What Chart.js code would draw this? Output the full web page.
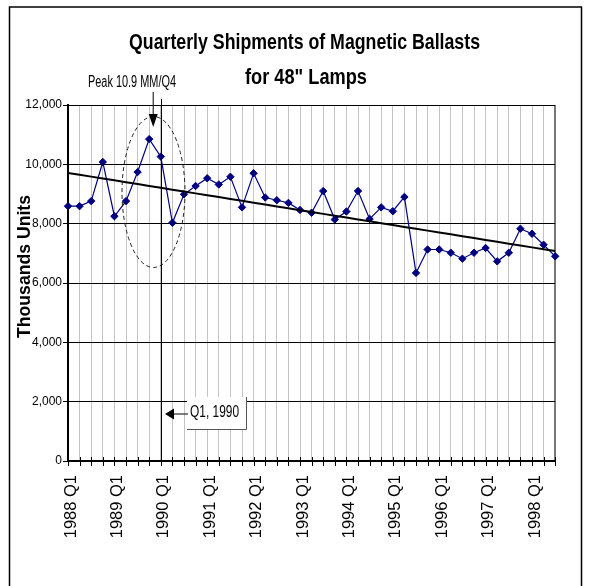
<!DOCTYPE html>
<html lang="en">
<head>
<meta charset="UTF-8">
<title>Quarterly Shipments of Magnetic Ballasts</title>
<script src="https://cdn.jsdelivr.net/npm/chart.js"></script>
<style>
  body { margin: 0; background: #fff; }
  canvas { display: block; }
</style>
</head>
<body>
<canvas id="myChart" width="589" height="586"></canvas>
<script>
// data (thousands of units, 1988 Q1 .. 1998 Q3)
const years = [1988, 1989, 1990, 1991, 1992, 1993, 1994, 1995, 1996, 1997, 1998];
const quarterNames = ['Q1', 'Q2', 'Q3', 'Q4'];
const shipments = [
  8590, 8590, 8760, 10080, 8250, 8760, 9740, 10850, 10260, 8030,
  8990, 9270, 9530, 9320, 9580, 8550, 9700, 8880, 8790, 8700,
  8460, 8370, 9100, 8140, 8410, 9100, 8160, 8550, 8420, 8900,
  6340, 7130, 7130, 7020, 6820, 7020, 7180, 6730, 7020, 7830,
  7660, 7290, 6900
];
const yTicks = [0, 2000, 4000, 6000, 8000, 10000, 12000];
const titleLines = ['Quarterly Shipments of Magnetic Ballasts', 'for 48" Lamps'];
const yTitle = 'Thousands Units';
const peakNote = 'Peak 10.9 MM/Q4';
const calloutNote = 'Q1, 1990';
const peakIndex = 7;
const markIndex = 8;

const labels = [];
years.forEach(y => quarterNames.forEach(q => labels.push(y + ' ' + q)));
labels.length = shipments.length;

// least squares trend
const n = shipments.length;
const mx = (n - 1) / 2;
const my = shipments.reduce((a, b) => a + b, 0) / n;
let sxy = 0, sxx = 0;
shipments.forEach((v, i) => { sxy += (i - mx) * (v - my); sxx += (i - mx) * (i - mx); });
const slope = sxy / sxx;
const trend = shipments.map((v, i) => my + slope * (i - mx));

function fitText(ctx, text, cx, y, width, font, baseline) {
  ctx.save();
  ctx.font = font;
  ctx.textAlign = 'center';
  ctx.textBaseline = baseline || 'alphabetic';
  const w = ctx.measureText(text).width;
  ctx.translate(cx, y);
  ctx.scale(width / w, 1);
  ctx.fillStyle = '#000';
  ctx.fillText(text, 0, 0);
  ctx.restore();
}

const overlay = {
  id: 'overlay',
  afterDatasetsDraw(chart) {
    const ctx = chart.ctx;
    const xs = chart.scales.x;
    const area = chart.chartArea;
    ctx.save();

    // crossing tick marks on x axis
    ctx.strokeStyle = '#000';
    ctx.lineWidth = 1;
    ctx.beginPath();
    for (let i = 0; i < n; i++) {
      const x = Math.round(xs.getPixelForValue(i)) + 0.5;
      ctx.moveTo(x, area.bottom - 4);
      ctx.lineTo(x, area.bottom + 5);
    }
    ctx.stroke();

    // Q1 1990 marker line
    const mxp = Math.round(xs.getPixelForValue(markIndex)) + 0.5;
    ctx.beginPath();
    ctx.moveTo(mxp, 99);
    ctx.lineTo(mxp, area.bottom);
    ctx.stroke();

    // dashed ellipse round the peak
    ctx.setLineDash([4, 3]);
    ctx.strokeStyle = '#222';
    ctx.beginPath();
    ctx.ellipse(153.5, 192, 31.5, 75.5, 0, 0, Math.PI * 2);
    ctx.stroke();
    ctx.setLineDash([]);

    // peak arrow
    const px = xs.getPixelForValue(peakIndex) + 4;
    ctx.strokeStyle = '#000';
    ctx.fillStyle = '#000';
    ctx.beginPath();
    ctx.moveTo(px, 92);
    ctx.lineTo(px, 116);
    ctx.stroke();
    ctx.beginPath();
    ctx.moveTo(px - 4.5, 114);
    ctx.lineTo(px + 4.5, 114);
    ctx.lineTo(px, 127);
    ctx.closePath();
    ctx.fill();

    // callout box
    ctx.fillStyle = '#fff';
    ctx.fillRect(187, 397, 59, 32);
    ctx.strokeStyle = '#555';
    ctx.beginPath();
    ctx.moveTo(246.5, 397);
    ctx.lineTo(246.5, 429.5);
    ctx.lineTo(187, 429.5);
    ctx.stroke();
    ctx.strokeStyle = '#000';
    ctx.fillStyle = '#000';
    ctx.beginPath();
    ctx.moveTo(173, 414);
    ctx.lineTo(188, 414);
    ctx.stroke();
    ctx.beginPath();
    ctx.moveTo(165, 414);
    ctx.lineTo(174, 408.5);
    ctx.lineTo(174, 419.5);
    ctx.closePath();
    ctx.fill();
    ctx.restore();

    fitText(ctx, calloutNote, 214.5, 417, 49, '16px "Liberation Sans", Arial, sans-serif');
  },
  afterDraw(chart) {
    const ctx = chart.ctx;
    ctx.save();
    // outer frame
    ctx.strokeStyle = '#000';
    ctx.lineWidth = 1.5;
    ctx.beginPath();
    ctx.moveTo(9.5, 600);
    ctx.lineTo(9.5, 7);
    ctx.lineTo(581.5, 7);
    ctx.lineTo(581.5, 600);
    ctx.stroke();
    ctx.restore();

    fitText(ctx, titleLines[0], 304.5, 48.5, 351, 'bold 22px "Liberation Sans", Arial, sans-serif');
    fitText(ctx, titleLines[1], 306, 83.5, 122, 'bold 22px "Liberation Sans", Arial, sans-serif');
    fitText(ctx, peakNote, 132, 86.5, 88, '16px "Liberation Sans", Arial, sans-serif');

    ctx.save();
    ctx.translate(25.5, 266.5);
    ctx.rotate(-Math.PI / 2);
    fitText(ctx, yTitle, 0, 0, 143, 'bold 18px "Liberation Sans", Arial, sans-serif', 'middle');
    ctx.restore();
  }
};

const last = n - 1;

const myChart = new Chart(document.getElementById('myChart'), {
  type: 'line',
  data: {
    labels: labels,
    datasets: [
      {
        label: 'Trend',
        data: trend,
        borderColor: '#000',
        borderWidth: 2,
        pointRadius: 0,
        clip: false,
        order: 0
      },
      {
        label: 'Shipments',
        data: shipments,
        borderColor: '#000080',
        backgroundColor: '#000080',
        borderWidth: 1.2,
        pointStyle: 'rectRot',
        pointRadius: 3.7,
        pointBorderWidth: 1,
        tension: 0,
        clip: false,
        order: 1
      }
    ]
  },
  options: {
    responsive: false,
    animation: false,
    layout: { padding: { top: 105, right: 29, left: 0, bottom: 0 } },
    plugins: {
      legend: { display: false },
      tooltip: { enabled: false },
      title: { display: false }
    },
    scales: {
      x: {
        offset: false,
        grid: {
          color: c => c.index === last ? '#777' : '#c4c4c4',
          lineWidth: c => c.index === last ? 2 : 1,
          drawTicks: false
        },
        border: { color: '#000', width: 2 },
        ticks: {
          autoSkip: false,
          minRotation: 90,
          maxRotation: 90,
          padding: 14,
          labelOffset: 3,
          color: '#000',
          font: { family: '"Liberation Sans", Arial, sans-serif', size: 16.5 },
          callback: function (v, i) { return i % 4 === 0 ? labels[i] : ''; }
        },
        afterFit: s => { s.height = 125; }
      },
      y: {
        min: 0,
        max: 12000,
        afterBuildTicks: s => { s.ticks = yTicks.map(v => ({ value: v })); },
        grid: { color: '#000', lineWidth: 1, tickLength: 5 },
        border: { color: '#000', width: 2 },
        ticks: {
          padding: 1,
          color: '#000',
          font: { family: '"Liberation Sans Narrow", "Liberation Sans", Arial, sans-serif', size: 12 },
          callback: v => v.toLocaleString('en-US')
        },
        afterFit: s => { s.width = 68; }
      }
    }
  },
  plugins: [overlay]
});
</script>
</body>
</html>
